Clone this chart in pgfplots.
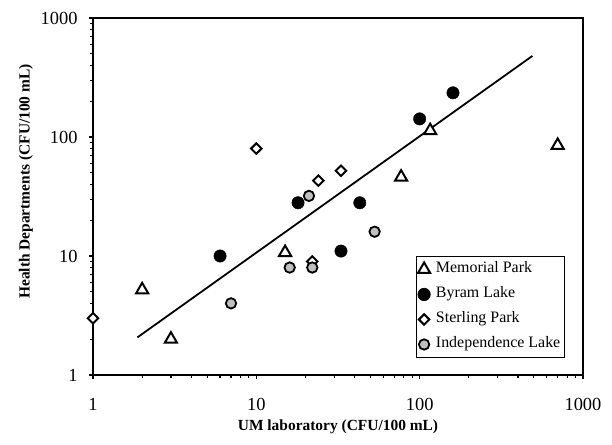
\documentclass[border=0pt]{standalone}
\usepackage{fontspec}
\setmainfont{Liberation Serif}
\usepackage{pgfplots}
\pgfplotsset{compat=1.18}
\begin{document}
\begin{tikzpicture}
\begin{axis}[
  at={(0,0)}, anchor=south west,
  scale only axis, width=490bp, height=357bp,
  xmode=log, ymode=log,
  xmin=1, xmax=1000, ymin=1, ymax=1000,
  xtick={1,10,100,1000}, xticklabels={1,10,100,1000},
  ytick={1,10,100,1000}, yticklabels={1,10,100,1000},
  minor xtick={}, minor ytick={},
  tick align=outside, xtick pos=bottom, ytick pos=left,
  major tick length=4bp,
  tick style={black, line width=1.2bp},
  axis line style={line width=1.6bp},
  /pgf/number format/assume math mode=true,
  ticklabel style={font=\fontsize{18.5}{20}\selectfont},
  xticklabel style={anchor=center, yshift=-25bp},
  yticklabel style={anchor=east, xshift=-8bp},
  xlabel={UM laboratory (CFU/100 mL)},
  ylabel={Health Departments (CFU/100 mL)},
  label style={font=\bfseries\fontsize{15.5}{18}\selectfont},
  xlabel style={at={(axis description cs:0.5,-0.1457)}, anchor=center},
  ylabel style={at={(axis description cs:-0.1367,0.542)}, anchor=center},
  clip=false,
  legend style={at={(rel axis cs:0.659,0.333)}, anchor=north west,
    draw=black, line width=0.7bp, font=\fontsize{16}{18}\selectfont,
    inner xsep=1.5bp, inner ysep=3.5bp, row sep=6bp,
    nodes={text height=11bp, text depth=4bp, inner ysep=2bp, inner xsep=2.5bp}},
  legend cell align=left,
  legend image code/.code={\path (0bp,0bp) (15bp,0bp); \draw[mark repeat=2,mark phase=2] plot coordinates {(0bp,0bp)(6bp,0bp)(12bp,0bp)};},
]
\addplot[forget plot, black, line width=1.8bp] coordinates {(1.87,2.07) (490,480)};
\addplot[only marks, mark=triangle*, mark size=7bp, mark options={draw=black, fill=white, line width=2bp}]
  coordinates {(2,5.2) (3,2) (15,10.7) (77,46) (116,113) (700,85)};
\addlegendentry{Memorial Park}
\addplot[only marks, mark=*, mark size=6.2bp, mark options={draw=black, fill=black}]
  coordinates {(6,10) (18,28) (33,11) (43,28) (100,142) (160,235)};
\addlegendentry{Byram Lake}
\addplot[only marks, mark=square*, mark size=3.7bp, mark options={draw=black, fill=white, line width=2bp, rotate=45}]
  coordinates {(1,3) (10,80) (24,43) (33,52) (22,9)};
\addlegendentry{Sterling Park}
\addplot[only marks, mark=*, mark size=5.2bp, mark options={draw=black, fill=black!25, line width=1.8bp}]
  coordinates {(7,4) (16,8) (22,8) (21,32) (53,16)};
\addlegendentry{Independence Lake}
\end{axis}
\pgfresetboundingbox
\useasboundingbox (-93bp,-70bp) rectangle (519bp,375bp);
\end{tikzpicture}
\end{document}
